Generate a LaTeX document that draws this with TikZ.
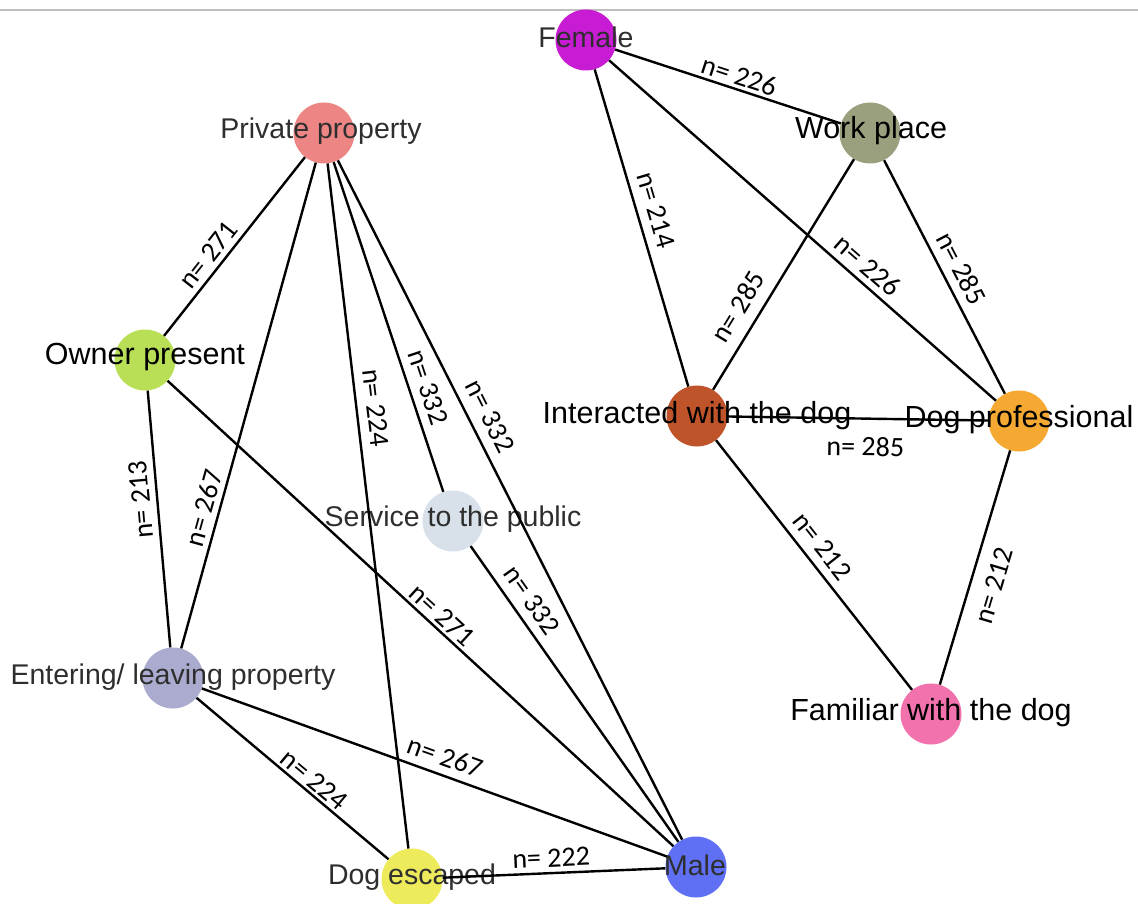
\documentclass[tikz,border=0pt]{standalone}
\usepackage{fontspec}
\setmainfont{Liberation Sans}
\newfontfamily\calib{Carlito}
\definecolor{cFemale}{HTML}{C81CD4}
\definecolor{cWork}{HTML}{9A9F7E}
\definecolor{cPriv}{HTML}{EE8585}
\definecolor{cOwner}{HTML}{B8DF55}
\definecolor{cInter}{HTML}{BF542B}
\definecolor{cDogPro}{HTML}{F5A832}
\definecolor{cServ}{HTML}{D8E1E9}
\definecolor{cEnter}{HTML}{ABABCF}
\definecolor{cFam}{HTML}{F272AE}
\definecolor{cEsc}{HTML}{EDEB5C}
\definecolor{cMale}{HTML}{5F70F4}
\begin{document}
\begin{tikzpicture}[x=1pt,y=-1pt,
  dot/.style={circle,minimum size=61pt,inner sep=0pt,draw=none},
  lab/.style={font=\fontsize{28.5}{30}\selectfont,text=black!82,inner sep=0pt},
  labbig/.style={font=\fontsize{30.5}{32}\selectfont,text=black,inner sep=0pt},
  edge/.style={draw=black,line width=2.4pt},
  elab/.style={font=\calib\fontsize{28}{30}\selectfont,sloped,allow upside down,inner sep=#1},
  elab/.default=5pt,
  up/.style={anchor=south},
  dn/.style={anchor=north}]
\useasboundingbox (0,0) rectangle (1138,904);
\coordinate (topL) at (0,10);
\coordinate (topR) at (1138,10);
\draw[gray!50,line width=1.6pt] (topL) -- (topR);
% circles
\node[dot,fill=cFemale] (Female) at (586,40) {};
\node[dot,fill=cWork] (Work) at (870,133) {};
\node[dot,fill=cPriv] (Priv) at (324,133) {};
\node[dot,fill=cOwner] (Owner) at (145,360) {};
\node[dot,fill=cInter] (Inter) at (697,416) {};
\node[dot,fill=cDogPro] (DogPro) at (1019,421) {};
\node[dot,fill=cServ] (Serv) at (453,521) {};
\node[dot,fill=cEnter] (Enter) at (173,678) {};
\node[dot,fill=cFam] (Fam) at (931,714) {};
\node[dot,fill=cEsc] (Esc) at (412,879) {};
\node[dot,fill=cMale] (Male) at (696,867) {};
% texts
\node[lab] (tFemale) at (586,37) {Female};
\node[labbig] (tWork) at (871,131) {Work place};
\node[lab] (tPriv) at (321,131) {Private property};
\node[labbig] (tOwner) at (145,357) {Owner present};
\node[labbig] (tInter) at (697,416) {Interacted with the dog};
\node[labbig] (tDogPro) at (1019,420) {Dog professional};
\node[lab] (tServ) at (453,519) {Service to the public};
\node[lab] (tEnter) at (173,677) {Entering/ leaving property};
\node[labbig] (tFam) at (931,713) {Familiar with the dog};
\node[lab] (tEsc) at (412,877) {Dog escaped};
\node[lab] (tMale) at (695,865) {Male};
% edges with labels (drawn in reading direction of the label)
\draw[edge] (Female) -- (Work) node[elab=3pt,up,pos=0.53] (l1) {n= 226};
\draw[edge] (Female) -- (Inter) node[elab=9pt,up,pos=0.46] (l2) {n= 214};
\draw[edge] (Female) -- (DogPro) node[elab=6pt,up,pos=0.64] (l3) {n= 226};
\draw[edge] (Inter) -- (Work) node[elab=11pt,up,pos=0.31] (l4) {n= 285};
\draw[edge] (Work) -- (DogPro) node[elab=8pt,up,pos=0.50] (l5) {n= 285};
\draw[edge] (Inter) -- (DogPro) node[elab=17pt,dn,pos=0.53] (l6) {n= 285};
\draw[edge] (Inter) -- (Fam) node[elab=8pt,up,pos=0.47] (l7) {n= 212};
\draw[edge] (Fam) -- (DogPro) node[elab=13pt,dn,pos=0.45] (l8) {n= 212};
\draw[edge] (Owner) -- (Priv) node[elab=5pt,up,pos=0.40] (l9) {n= 271};
\draw[edge] (Enter) -- (Priv) node[elab=5pt,up,pos=0.28] (l10) {n= 267};
\draw[edge] (Priv) -- (Esc) node[elab=9pt,up,pos=0.36] (l11) {n= 224};
\draw[edge] (Priv) -- (Serv) node[elab=8pt,up,pos=0.70] (l12) {n= 332};
\draw[edge] (Priv) -- (Male) node[elab=10pt,up,pos=0.39] (l13) {n= 332};
\draw[edge] (Enter) -- (Owner) node[elab=6pt,up,pos=0.58] (l14) {n= 213};
\draw[edge] (Owner) -- (Male) node[elab=3pt,up,pos=0.525] (l15) {n= 271};
\draw[edge] (Serv) -- (Male) node[elab=9pt,up,pos=0.22] (l16) {n= 332};
\draw[edge] (Enter) -- (Esc) node[elab=3pt,up,pos=0.57] (l17) {n= 224};
\draw[edge] (Enter) -- (Male) node[elab=8pt,up,pos=0.51] (l18) {n= 267};
\draw[edge] (Esc) -- (Male) node[elab=5pt,up,pos=0.49] (l19) {n= 222};
\end{tikzpicture}
\end{document}
